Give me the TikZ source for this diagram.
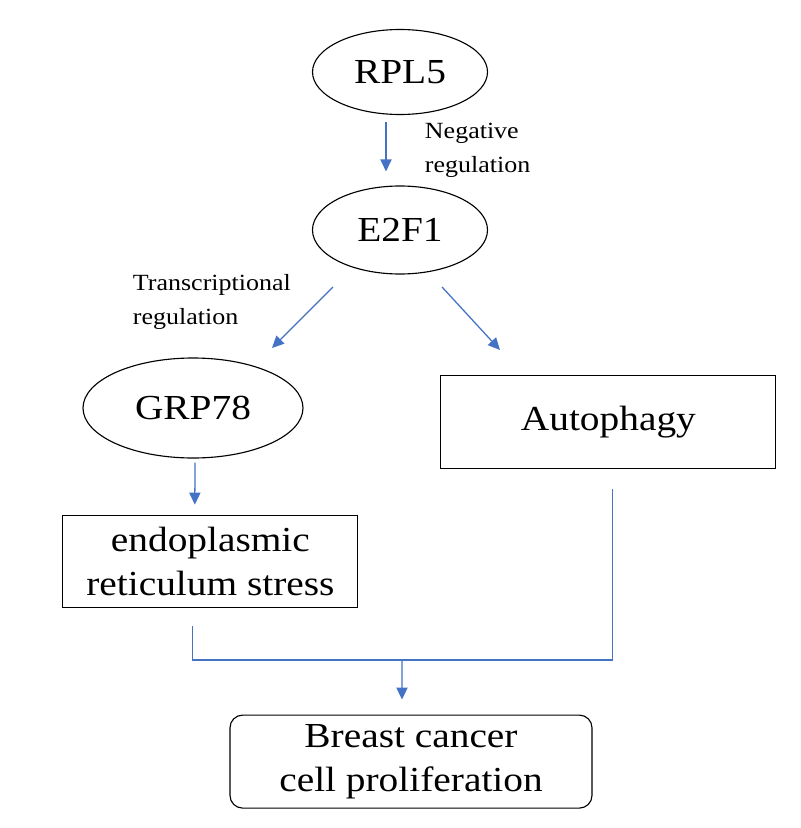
\documentclass[tikz,border=0pt]{standalone}
\usepackage{fontspec}
\setmainfont{Liberation Serif}[FakeStretch=1.12]
\usetikzlibrary{shapes.geometric,arrows.meta}
\definecolor{arrblue}{RGB}{68,114,196}
\tikzset{
  gene/.style={draw,ellipse,line width=0.8pt,inner sep=0pt,font=\fontsize{25}{31}\selectfont},
  proc/.style={draw,rectangle,line width=0.8pt,align=center,inner sep=0pt,font=\fontsize{25}{31}\selectfont},
  outcome/.style={proc,rounded corners=9pt},
  lbl/.style={anchor=west,align=left,font=\fontsize{16.5}{24}\selectfont},
  arr/.style={draw=arrblue,line width=0.9pt,-{Triangle[length=3mm,width=2.8mm]}},
  link/.style={draw=arrblue,line width=0.9pt}
}
\begin{document}
\begin{tikzpicture}
  \useasboundingbox (0,0) rectangle (20,-20.7);
  % Các nút
  \node[gene,minimum width=4.375cm,minimum height=2.125cm] (rpl) at (10,-1.8) {RPL5};
  \node[gene,minimum width=4.375cm,minimum height=2.2cm] (e2f) at (10,-5.75) {E2F1};
  \node[gene,minimum width=5.5cm,minimum height=2.5cm] (grp) at (4.825,-10.2) {GRP78};
  \node[proc,minimum width=8.375cm,minimum height=2.325cm] (auto) at (15.21,-10.54) {Autophagy};
  \node[proc,minimum width=7.375cm,minimum height=2.3cm] (ers) at (5.26,-14.03) {endoplasmic\\reticulum stress};
  \node[outcome,minimum width=9.05cm,minimum height=2.325cm] (bcp) at (10.275,-19.04) {Breast cancer\\cell proliferation};
  % Nhãn
  \node[lbl] (neg) at (10.5,-3.75) {Negative\\regulation};
  \node[lbl] (trs) at (3.2,-7.55) {Transcriptional\\regulation};
  % Mũi tên
  \draw[arr] ([xshift=-0.35cm,yshift=-0.18cm]rpl.south) -- ([xshift=-0.35cm,yshift=0.35cm]e2f.north);
  \draw[arr] ([xshift=-1.675cm,yshift=-0.31cm]e2f.south) -- ([xshift=1.975cm,yshift=1.5cm]grp.center);
  \draw[arr] ([xshift=1.05cm,yshift=-0.31cm]e2f.south) -- ([xshift=-2.71cm,yshift=1.79cm]auto.center);
  \draw[arr] ([xshift=0.05cm,yshift=-0.1cm]grp.south) -- ([xshift=-0.39cm,yshift=0.25cm]ers.north);
  % Nhánh gộp
  \coordinate (mrg) at (10.05,-16.5);
  \draw[link] ([xshift=-0.44cm,yshift=-0.45cm]ers.south) |- (mrg) -| ([xshift=0.11cm,yshift=-0.5cm]auto.south);
  \draw[arr] (mrg) -- ([xshift=-0.225cm,yshift=0.375cm]bcp.north);
\end{tikzpicture}
\end{document}
